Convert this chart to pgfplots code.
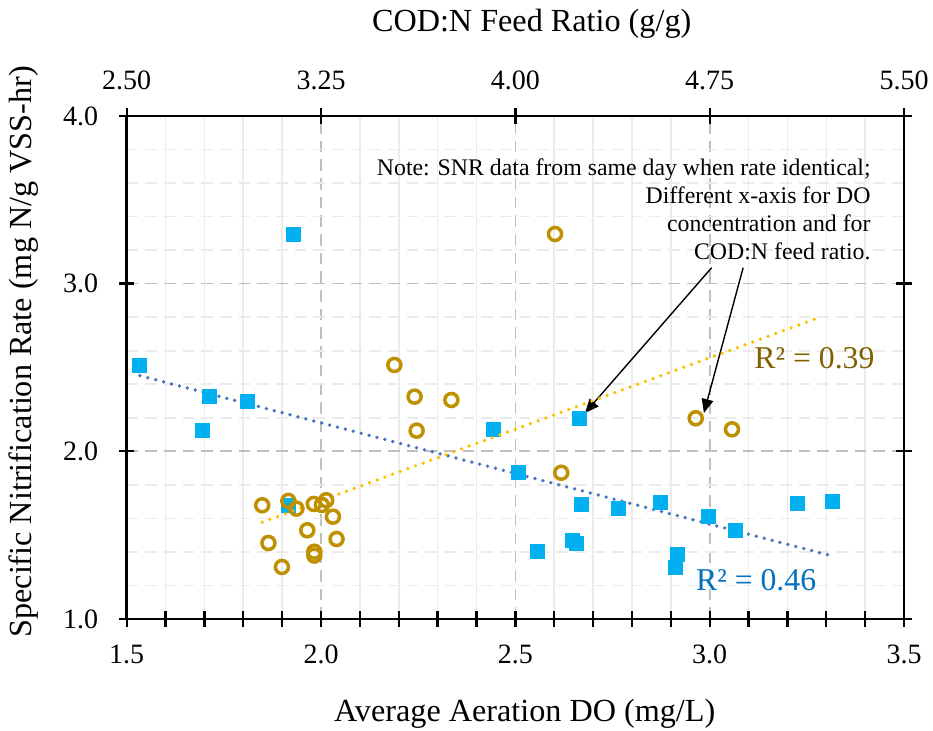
\documentclass[border=0pt]{standalone}
\usepackage{fontspec}
\setmainfont{Liberation Serif}
\usepackage{pgfplots}
\usepackage{pgfplotstable}
\pgfplotsset{compat=1.18}
\usetikzlibrary{arrows.meta}
\definecolor{sqblue}{HTML}{00B0F0}
\definecolor{trblue}{HTML}{4472C4}
\definecolor{cgold}{HTML}{BF9000}
\definecolor{trgold}{HTML}{FFC000}
\definecolor{rgold}{HTML}{806000}
\definecolor{rblue}{HTML}{0070C0}
\definecolor{gridmaj}{HTML}{BFBFBF}
\definecolor{gridmin}{HTML}{EBEBEB}

\pgfplotstableread{
do snr
1.534 2.510
1.714 2.326
1.811 2.300
1.696 2.123
1.930 3.296
1.915 1.676
2.444 2.133
2.507 1.872
2.558 1.405
2.666 2.193
2.671 1.682
2.766 1.658
2.872 1.692
2.998 1.610
3.065 1.527
3.226 1.688
3.316 1.700
2.646 1.471
2.657 1.449
2.916 1.382
2.911 1.306
}\bluedata

\pgfplotstableread{
cod snr
3.533 2.515
3.611 2.326
3.753 2.306
3.619 2.123
3.023 1.678
3.124 1.704
3.155 1.658
3.222 1.686
3.253 1.680
3.270 1.708
3.296 1.610
3.197 1.529
3.047 1.453
3.310 1.477
3.224 1.401
3.224 1.378
3.099 1.310
4.153 3.296
4.177 1.872
4.696 2.197
4.836 2.131
}\golddata

\pgfplotsset{common/.style={
  width=333.2pt, height=215.6pt, scale only axis,
  ymin=1, ymax=4,
  axis line style={line width=1.1pt},
  tick style={line width=1pt, black},
  major tick length=6.5pt, minor tick length=6.5pt,
  tick align=center,
  /pgf/number format/assume math mode=true,
  tick label style={font=\fontsize{12}{14}\selectfont},
  label style={font=\fontsize{13.8}{16}\selectfont},
}}

\begin{document}
\begin{tikzpicture}
% grid only
\begin{axis}[common,
  xmin=1.5, xmax=3.5,
  xtick distance=0.5, minor x tick num=4,
  ytick distance=1, minor y tick num=4,
  xticklabels={}, yticklabels={},
  tick style={draw=none},
  axis line style={draw=none},
  grid=both,
  major x grid style={gridmaj, line width=0.7pt, dash pattern=on 5pt off 3pt},
  minor x grid style={gridmin, line width=0.7pt},
  major y grid style={gridmaj, line width=0.7pt, dash pattern=on 5pt off 3pt},
  minor y grid style={gridmin, line width=0.7pt, dash pattern=on 5pt off 3pt},
]
\addplot[draw=none] coordinates {(2,2)};
\end{axis}
% bottom axis, left/right major ticks, blue series
\begin{axis}[common,
  xmin=1.5, xmax=3.5,
  xtick distance=0.5, minor x tick num=4,
  ytick distance=1,
  xtick pos=left, ytick pos=both, yticklabel pos=left,
  xticklabel style={yshift=-4.2pt, /pgf/number format/.cd, fixed, fixed zerofill, precision=1},
  yticklabel style={xshift=-5.5pt, /pgf/number format/.cd, fixed, fixed zerofill, precision=1},
  xlabel={Average Aeration DO (mg/L)},
  xlabel style={at={(axis description cs:0.512,-0.203)}, anchor=base},
  ylabel={Specific Nitrification Rate (mg N/g VSS-hr)},
  ylabel style={at={(axis description cs:-0.132,0.531)}, anchor=center, rotate=0},
]
\addplot[trblue, line width=1.6pt, line cap=round, dash pattern=on 0pt off 3.5pt] coordinates {(1.534,2.451) (3.303,1.383)};
\addplot[only marks, mark=square*, mark size=3pt, color=sqblue] table[x=do, y=snr] {\bluedata};
\node[anchor=north east, inner sep=0pt, align=right, font=\fontsize{10.2}{11.9}\selectfont] at (axis cs:3.415,3.745)
  {Note: SNR data from same day when rate identical;\\Different x-axis for DO\\concentration and for\\COD:N feed ratio.};
\draw[black, line width=0.6pt, -{Triangle[length=6pt,width=5pt]}] (axis cs:3.005,3.095) -- (axis cs:2.679,2.228);
\draw[black, line width=0.6pt, -{Triangle[length=6pt,width=5pt]}] (axis cs:3.086,3.095) -- (axis cs:2.985,2.228);
\node[anchor=base east, inner sep=0pt, text=rgold, font=\fontsize{13.6}{15}\selectfont] at (axis cs:3.425,2.491) {R² = 0.39};
\node[anchor=base east, inner sep=0pt, text=rblue, font=\fontsize{13.6}{15}\selectfont] at (axis cs:3.275,1.167) {R² = 0.46};
\end{axis}
% inward minor ticks on top, left and right
\begin{axis}[common,
  xmin=2.5, xmax=5.5,
  xtick=\empty, ytick=\empty,
  minor xtick={2.65,2.8,2.95,3.1,3.4,3.55,3.7,3.85,4.15,4.3,4.45,4.6,4.9,5.05,5.2,5.35},
  minor ytick={1.2,1.4,1.6,1.8,2.2,2.4,2.6,2.8,3.2,3.4,3.6,3.8},
  tick align=inside, minor tick length=3pt,
  xtick pos=right, ytick pos=both,
]
\addplot[draw=none] coordinates {(3,2)};
\end{axis}
% top axis, gold series
\begin{axis}[common,
  xmin=2.5, xmax=5.5,
  xtick={2.5,3.25,4,4.75,5.5},
  ytick=\empty,
  xtick pos=right, xticklabel pos=right,
  xticklabel style={yshift=4.2pt, /pgf/number format/.cd, fixed, fixed zerofill, precision=2},
  xlabel={COD:N Feed Ratio (g/g)},
  xlabel style={at={(axis description cs:0.521,1.167)}, anchor=base},
]
\addplot[trgold, line width=1.6pt, line cap=round, dash pattern=on 0pt off 3.5pt] coordinates {(3.023,1.577) (5.157,2.789)};
\addplot[only marks, mark=o, mark size=2.8pt, line width=1.5pt, color=cgold] table[x=cod, y=snr] {\golddata};
\end{axis}
\pgfresetboundingbox
\useasboundingbox (-54.3pt,-47.6pt) rectangle (345.6pt,265.3pt);
\end{tikzpicture}
\end{document}
